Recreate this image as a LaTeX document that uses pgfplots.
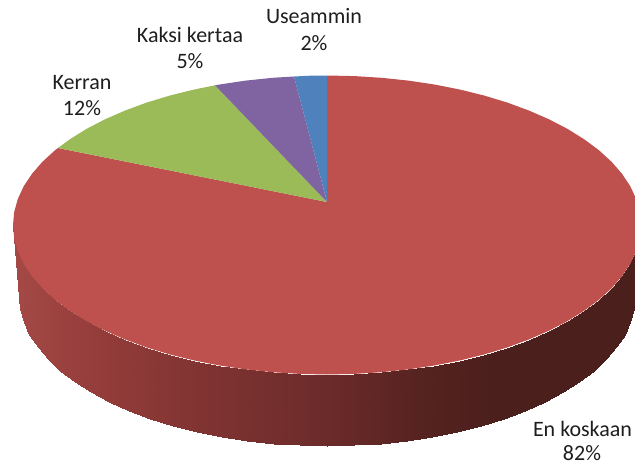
\documentclass[border=0pt]{standalone}
\usepackage{pgfplots}
\pgfplotsset{compat=1.18}
\usepackage{fontspec}
\setmainfont{Carlito}
\definecolor{cred}{RGB}{190,80,77}
\definecolor{cgreen}{RGB}{155,187,89}
\definecolor{cpurple}{RGB}{128,100,162}
\definecolor{cblue}{RGB}{79,129,189}
\definecolor{ctext}{RGB}{30,30,30}
\tikzset{lab/.style={font=\fontsize{22}{26}\selectfont, text=ctext, inner sep=0pt, anchor=base}}
\begin{document}
\begin{tikzpicture}
\begin{axis}[
  scale only axis, width=635pt, height=463pt,
  xmin=0, xmax=635, ymin=0, ymax=463, y dir=reverse,
  hide axis,
  point meta min=13, point meta max=641,
  colormap={side}{rgb255(13pt)=(164,73,70) rgb255(110pt)=(146,59,57) rgb255(200pt)=(128,52,50) rgb255(327pt)=(107,43,42) rgb255(430pt)=(84,34,31) rgb255(500pt)=(74,31,28) rgb255(641pt)=(74,31,28)},
]
\path (axis cs:0,0) rectangle (axis cs:635,463);
% side wall of the disc
\addplot[surf, shader=interp, mesh/rows=2, mesh/cols=37, point meta=x] table {
x y
13.0 225.0
14.2 238.0
17.8 251.0
23.7 263.7
31.9 276.1
42.4 288.2
55.1 299.8
69.8 310.7
86.5 321.1
105.0 330.7
125.2 339.5
146.9 347.5
170.0 354.5
194.3 360.5
219.6 365.5
245.7 369.4
272.5 372.2
299.6 373.9
327.0 374.5
354.4 373.9
381.5 372.2
408.3 369.4
434.4 365.5
459.7 360.5
484.0 354.5
507.1 347.5
528.8 339.5
549.0 330.7
567.5 321.1
584.2 310.7
598.9 299.8
611.6 288.2
622.1 276.1
630.3 263.7
636.2 251.0
639.8 238.0
641.0 225.0
19.0 296.0
20.2 309.1
23.7 322.0
29.5 334.8
37.6 347.3
47.9 359.4
60.3 371.0
74.7 382.0
91.1 392.4
109.2 402.1
129.0 410.9
150.3 418.9
173.0 425.9
196.8 431.9
221.7 437.0
247.3 440.9
273.5 443.7
300.1 445.4
327.0 446.0
353.9 445.4
380.5 443.7
406.7 440.9
432.3 437.0
457.2 431.9
481.0 425.9
503.7 418.9
525.0 410.9
544.8 402.1
562.9 392.4
579.3 382.0
593.7 371.0
606.1 359.4
616.4 347.3
624.5 334.8
630.3 322.0
633.8 309.1
635.0 296.0
};
% En koskaan 82%
\addplot[fill=cred, draw=none] coordinates {
(327,202)(327,75.5)(354.4,76.1)(381.5,77.8)(408.3,80.6)(434.4,84.5)(459.7,89.5)(484,95.5)(507.1,102.5)(528.8,110.5)(549,119.3)(567.5,128.9)(584.2,139.3)(598.9,150.2)(611.6,161.8)(622.1,173.9)(630.3,186.3)(636.2,199)(639.8,212)(641,225)
(639.8,238)(636.2,251)(630.3,263.7)(622.1,276.1)(611.6,288.2)(598.9,299.8)(584.2,310.7)(567.5,321.1)(549,330.7)(528.8,339.5)(507.1,347.5)(484,354.5)(459.7,360.5)(434.4,365.5)(408.3,369.4)(381.5,372.2)(354.4,373.9)(327,374.5)
(299.6,373.9)(272.5,372.2)(245.7,369.4)(219.6,365.5)(194.3,360.5)(170,354.5)(146.9,347.5)(125.2,339.5)(105,330.7)(86.5,321.1)(69.8,310.7)(55.1,299.8)(42.4,288.2)(31.9,276.1)(23.7,263.7)(17.8,251)(14.2,238)(13,225)
(14.2,212)(17.8,199)(23.7,186.3)(31.9,173.9)(42.4,161.8)(55.1,150.2)(58,148)(327,202)} -- cycle;
% Kerran 12%
\addplot[fill=cgreen, draw=none] coordinates {(327,202)(215,85.3)(194.3,89.5)(170,95.5)(146.9,102.5)(125.2,110.5)(105,119.3)(86.5,128.9)(69.8,139.3)(58,148)} -- cycle;
% Kaksi kertaa 5%
\addplot[fill=cpurple, draw=none] coordinates {(327,202)(294,76.5)(272.5,77.8)(245.7,80.6)(219.6,84.5)(215,85.3)} -- cycle;
% Useammin 2%
\addplot[fill=cblue, draw=none] coordinates {(327,202)(327,75.5)(310,75.7)(294,76.5)} -- cycle;
\node[lab] at (axis cs:314,23.5) {Useammin};
\node[lab] at (axis cs:314,50) {2\%};
\node[lab] at (axis cs:190,42) {Kaksi kertaa};
\node[lab] at (axis cs:190,68) {5\%};
\node[lab] at (axis cs:82,89.5) {Kerran};
\node[lab] at (axis cs:82,115.5) {12\%};
\node[lab] at (axis cs:582.5,436) {En koskaan};
\node[lab] at (axis cs:582,460) {82\%};
\end{axis}
\end{tikzpicture}
\end{document}
